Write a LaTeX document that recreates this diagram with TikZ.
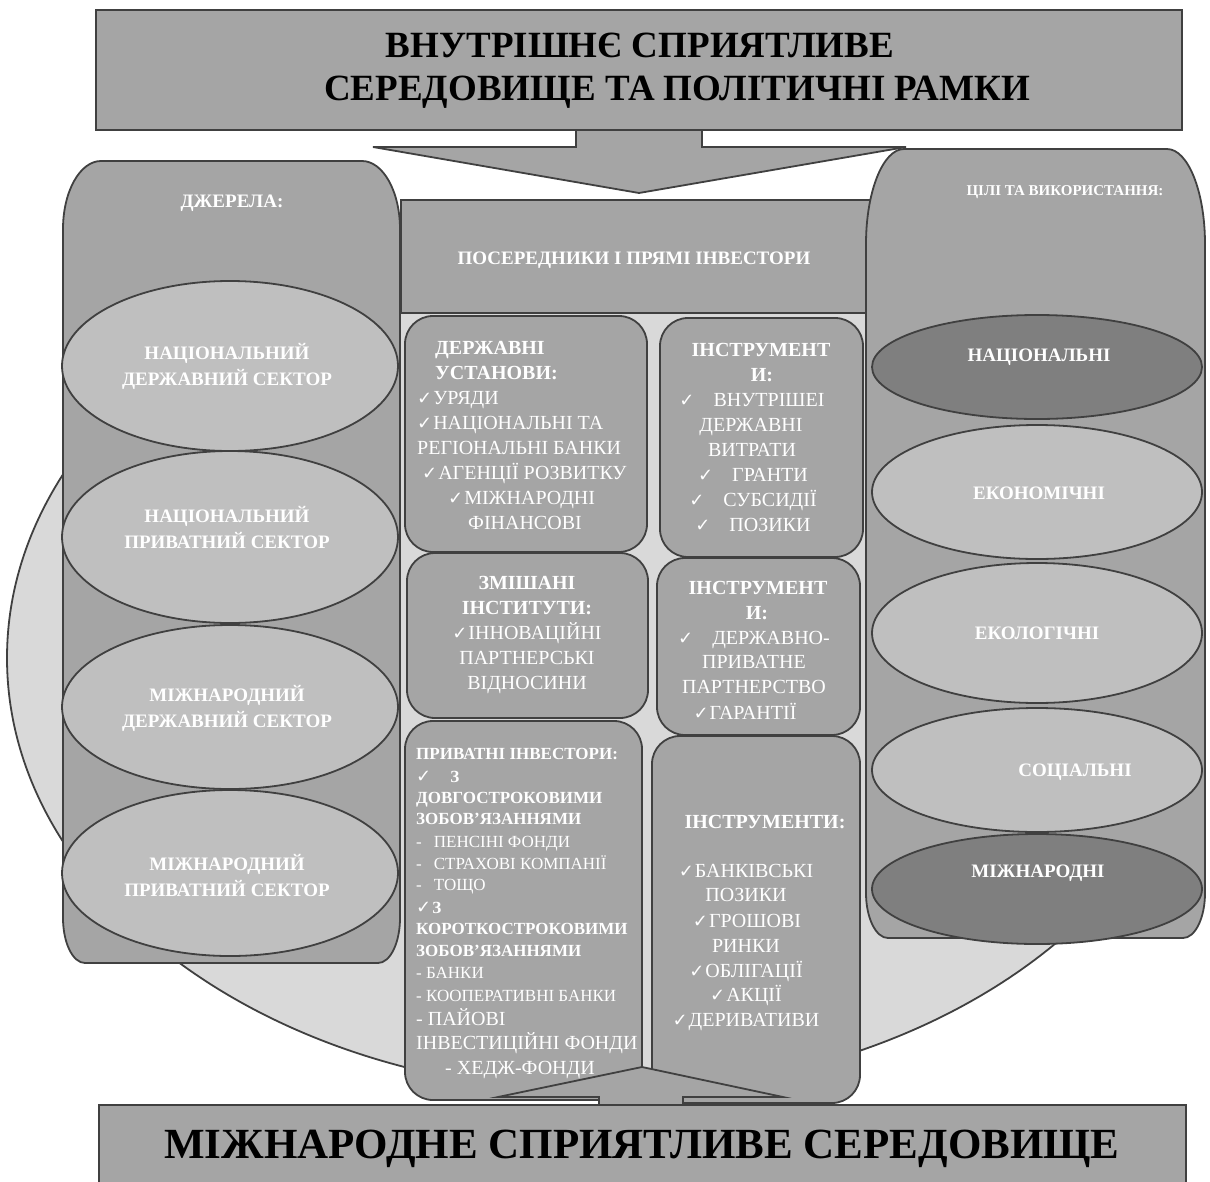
\documentclass[tikz,border=0pt]{standalone}
\usepackage{fontspec}
\setmainfont{Liberation Serif}
\newfontfamily\chkfont{DejaVu Sans}
\usetikzlibrary{shapes.geometric, positioning}
\definecolor{fillgray}{HTML}{A5A5A5}
\definecolor{ovalgray}{HTML}{BFBFBF}
\definecolor{deepgray}{HTML}{7F7F7F}
\definecolor{backgray}{HTML}{D9D9D9}
\definecolor{edgegray}{HTML}{404040}
\newcommand{\ck}{{\chkfont\fontsize{18}{18}\selectfont ✓}\hspace{1pt}}
\tikzstyle{shp}=[draw=edgegray,line width=1.8pt]
\tikzstyle{blk}=[shp,fill=fillgray,inner sep=0pt]
\tikzstyle{inbox}=[blk,rounded corners=28pt]
\tikzstyle{oval}=[shp,ellipse,inner sep=0pt]
\tikzstyle{wtxt}=[text=white,inner sep=0pt]
\tikzstyle{otxt}=[wtxt,align=center,font=\bfseries\fontsize{19}{26}\selectfont]
\tikzstyle{itxt}=[wtxt,font=\fontsize{20}{25}\selectfont]
\tikzstyle{stxt}=[wtxt,font=\fontsize{17}{21}\selectfont]
\tikzstyle{ttl}=[inner sep=0pt,anchor=base,font=\bfseries\fontsize{37}{43}\selectfont]

\begin{document}
\begin{tikzpicture}[x=1pt,y=-1pt]
\useasboundingbox (0,0) rectangle (1210,1181);
\draw[shp,fill=backgray] (605,658) ellipse [x radius=598,y radius=434];

\draw[blk] (576,130) -- (576,147) -- (373,147) -- (639,193) -- (906,147) -- (702,147) -- (702,130);
\node[blk,minimum width=1086pt,minimum height=120pt] (inner) at (639,70) {};
\node[ttl] (innerA) at (640,57) {ВНУТРІШНЄ СПРИЯТЛИВЕ};
\node[ttl] (innerB) at (677,100) {СЕРЕДОВИЩЕ ТА ПОЛІТИЧНІ РАМКИ};

\node[blk,minimum width=480pt,minimum height=113pt] (mid) at (641,256.5) {};
\node[wtxt,font=\bfseries\fontsize{19}{23}\selectfont] (midtxt) at (634,260) {ПОСЕРЕДНИКИ І ПРЯМІ ІНВЕСТОРИ};

\draw[blk] (63,918) -- (63,229) arc[start angle=180,end angle=270,x radius=38,y radius=68]
    -- (362,161) arc[start angle=270,end angle=360,x radius=38,y radius=68]
    -- (400,918) arc[start angle=0,end angle=90,x radius=22,y radius=45]
    -- (85,963) arc[start angle=90,end angle=180,x radius=22,y radius=45] -- cycle;
\node[wtxt,font=\bfseries\fontsize{19}{23}\selectfont] (srchead) at (232,203) {ДЖЕРЕЛА:};
\foreach \y/\h/\ty/\t [count=\i] in {366/170/366/{НАЦІОНАЛЬНИЙ\\ДЕРЖАВНИЙ СЕКТОР},
        537/172/527/{НАЦІОНАЛЬНИЙ\\ПРИВАТНИЙ СЕКТОР}, 707/164/708/{МІЖНАРОДНИЙ\\ДЕРЖАВНИЙ СЕКТОР},
        873/166/875/{МІЖНАРОДНИЙ\\ПРИВАТНИЙ СЕКТОР}} {
    \node[oval,fill=ovalgray,minimum width=336pt,minimum height=\h pt] (src\i) at (230,\y) {};
    \node[otxt] (srct\i) at (227,\ty) {\t};
}

\draw[blk] (866,893) -- (866,244) arc[start angle=180,end angle=270,x radius=38,y radius=95]
    -- (1167,149) arc[start angle=270,end angle=360,x radius=38,y radius=95]
    -- (1205,893) arc[start angle=0,end angle=90,x radius=22,y radius=45]
    -- (888,938) arc[start angle=90,end angle=180,x radius=22,y radius=45] -- cycle;
\node[wtxt,font=\bfseries\fontsize{15}{18}\selectfont] (goalhead) at (1065,192) {ЦІЛІ ТА ВИКОРИСТАННЯ:};
\foreach \y/\h/\c/\tx/\ty/\t [count=\i] in {367/104/deepgray/1039/357/НАЦІОНАЛЬНІ,
        492/134/ovalgray/1039/493/ЕКОНОМІЧНІ, 633/140/ovalgray/1037/633/ЕКОЛОГІЧНІ,
        770/124/ovalgray/1075/772/СОЦІАЛЬНІ, 889/110/deepgray/1038/873/МІЖНАРОДНІ} {
    \node[oval,fill=\c,minimum width=330pt,minimum height=\h pt] (goal\i) at (1037,\y) {};
    \node[otxt] (goalt\i) at (\tx,\ty) {\t};
}

\foreach \nm/\cx/\cy/\w/\h in {gov/526/434/242/236, ins/761.5/437.5/203/239, mix/527.5/635.5/241/165,
        ppp/758.5/646.5/203/177, prv/523.5/910.5/237/379, mkt/756/919.5/208/367}
    \node[inbox,minimum width=\w pt,minimum height=\h pt] (\nm) at (\cx,\cy) {};

\foreach \x/\t [count=\i] in {435/{\bfseries ДЕРЖАВНІ}, 435/{\bfseries УСТАНОВИ:}, 417/{\ck УРЯДИ},
        417/{\ck НАЦІОНАЛЬНІ ТА}, 417/{РЕГІОНАЛЬНІ БАНКИ}, 422/{\ck АГЕНЦІЇ РОЗВИТКУ},
        448/{\ck МІЖНАРОДНІ}, 468/{ФІНАНСОВІ}}
    \node[itxt,anchor=base west] (gov\i) at (\x,329.5+25*\i) {\t};
\foreach \x/\t [count=\i] in {761/{\bfseries ІНСТРУМЕНТ}, 762/{\bfseries И:}, 752/{\ck\hspace{18pt}ВНУТРІШЕІ},
        751/{ДЕРЖАВНІ}, 752/{ВИТРАТИ}, 753/{\ck\hspace{18pt}ГРАНТИ}, 753/{\ck\hspace{18pt}СУБСИДІЇ},
        753/{\ck\hspace{18pt}ПОЗИКИ}}
    \node[itxt,anchor=base] (ins\i) at (\x,331.5+25*\i) {\t};
\foreach \t [count=\i] in {{\bfseries ЗМІШАНІ}, {\bfseries ІНСТИТУТИ:}, {\ck ІННОВАЦІЙНІ}, ПАРТНЕРСЬКІ, ВІДНОСИНИ}
    \node[itxt,anchor=base] (mix\i) at (527,564.5+25*\i) {\t};
\foreach \x/\y/\t [count=\i] in {758/594.5/{\bfseries ІНСТРУМЕНТ}, 757/619.5/{\bfseries И:},
        754/644.5/{\ck\hspace{18pt}ДЕРЖАВНО-}, 754/668.5/ПРИВАТНЕ, 754/693.5/ПАРТНЕРСТВО, 745/719.5/{\ck ГАРАНТІЇ}}
    \node[itxt,anchor=base] (ppp\i) at (\x,\y) {\t};
\foreach \x/\y/\t [count=\i] in {416/759/{\bfseries ПРИВАТНІ ІНВЕСТОРИ:}, 416/782/{\ck\hspace{18pt}\bfseries З},
        416/803/{\bfseries ДОВГОСТРОКОВИМИ}, 416/824/{\bfseries ЗОБОВ’ЯЗАННЯМИ},
        416/847/{-\hspace{12pt}ПЕНСІНІ ФОНДИ}, 416/869/{-\hspace{12pt}СТРАХОВІ КОМПАНІЇ},
        416/890/{-\hspace{12pt}ТОЩО}, 416/913/{\ck\bfseries З}, 416/934/{\bfseries КОРОТКОСТРОКОВИМИ},
        416/956/{\bfseries ЗОБОВ’ЯЗАННЯМИ}, 416/978/{- БАНКИ}, 416/1001/{- КООПЕРАТИВНІ БАНКИ},
        416/1025/{\fontsize{20}{24}\selectfont - ПАЙОВІ}, 416/1049/{\fontsize{20}{24}\selectfont ІНВЕСТИЦІЙНІ ФОНДИ},
        445/1074/{\fontsize{20}{24}\selectfont - ХЕДЖ-ФОНДИ}}
    \node[stxt,anchor=base west] (prv\i) at (\x,\y) {\t};
\foreach \x/\y/\t [count=\i] in {765/828.5/{\bfseries ІНСТРУМЕНТИ:}, 746/877.5/{\ck БАНКІВСЬКІ}, 746/901.5/ПОЗИКИ,
        747/927.5/{\ck ГРОШОВІ}, 746/952.5/РИНКИ, 746/977.5/{\ck ОБЛІГАЦІЇ}, 746/1001.5/{\ck АКЦІЇ},
        746/1026.5/{\ck ДЕРИВАТИВИ}}
    \node[itxt,anchor=base] (mkt\i) at (\x,\y) {\t};

\draw[blk] (599,1107) -- (599,1097) -- (498,1097) -- (642,1067) -- (783,1097) -- (683,1097) -- (683,1107);
\node[blk,minimum width=1087pt,minimum height=100pt] (outer) at (642.5,1155) {};
\node[ttl,font=\bfseries\fontsize{43}{48}\selectfont] (outerA) at (642,1158) {МІЖНАРОДНЕ СПРИЯТЛИВЕ СЕРЕДОВИЩЕ};
\end{tikzpicture}
\end{document}
